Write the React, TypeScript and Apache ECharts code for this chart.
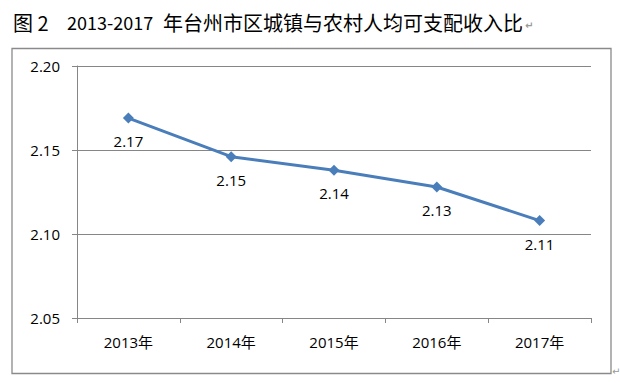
import React, { useEffect, useRef } from "react";
import * as echarts from "echarts";

const categories = ["2013年", "2014年", "2015年", "2016年", "2017年"];
const ratioValues = [2.169, 2.146, 2.138, 2.128, 2.108];
const yTicks = { min: 2.05, max: 2.2, interval: 0.05 };
const titleParts = ["图 2", "2013-2017", "年台州市区城镇与农村人均可支配收入比", "↵"];

export default function App() {
  const ref = useRef<HTMLDivElement>(null);
  useEffect(() => {
    if (!ref.current) return;
    const chart = echarts.init(ref.current, null, { renderer: "svg" });
    const labelFont = "'Open Sans', 'Noto Sans CJK SC', sans-serif";
    chart.setOption({
      animation: false,
      backgroundColor: "#ffffff",
      title: {
        left: 13,
        top: 10,
        padding: 0,
        text: `{a|${titleParts[0]}}{b|${titleParts[1]}}{c|${titleParts[2]}}{m|${titleParts[3]}}`,
        textStyle: {
          rich: {
            a: { fontFamily: "'Noto Sans CJK SC'", fontSize: 20, fontWeight: "normal", color: "#000", width: 54, lineHeight: 24 },
            b: { fontFamily: "'Noto Sans CJK SC'", fontSize: 18, fontWeight: "normal", color: "#000", width: 96, lineHeight: 24 },
            c: { fontFamily: "'Noto Sans CJK SC'", fontSize: 20, fontWeight: "normal", color: "#000", lineHeight: 24 },
            m: { fontFamily: "'DejaVu Sans'", fontSize: 10, color: "#999", lineHeight: 24, padding: [6, 0, 0, 2] },
          },
        },
      },
      graphic: [
        {
          type: "rect",
          shape: { x: 12, y: 48.5, width: 599, height: 325 },
          style: { fill: "none", stroke: "#8a8a8a", lineWidth: 1.3 },
          silent: true,
        },
        {
          type: "text",
          left: 612,
          top: 366,
          style: { text: "↵", fontSize: 10, fill: "#999", fontFamily: "'DejaVu Sans'" },
          silent: true,
        },
      ],
      grid: { left: 77, top: 66, width: 514, height: 252, containLabel: false },
      xAxis: {
        type: "category",
        data: categories,
        boundaryGap: true,
        axisLine: { show: true, lineStyle: { color: "#868686", width: 1 } },
        axisTick: { show: true, length: 5, lineStyle: { color: "#868686" } },
        axisLabel: { color: "#000", fontSize: 15, fontFamily: labelFont, margin: 16 },
        splitLine: { show: false },
      },
      yAxis: {
        type: "value",
        min: yTicks.min,
        max: yTicks.max,
        interval: yTicks.interval,
        axisLine: { show: true, lineStyle: { color: "#868686", width: 1 } },
        axisTick: { show: true, length: 5, lineStyle: { color: "#868686" } },
        axisLabel: {
          color: "#000",
          fontSize: 15,
          fontFamily: labelFont,
          margin: 17,
          formatter: (v: number) => v.toFixed(2),
        },
        splitLine: { show: true, lineStyle: { color: "#868686", width: 1 } },
      },
      series: [
        {
          type: "line",
          data: ratioValues,
          symbol: "diamond",
          symbolSize: 11,
          lineStyle: { color: "#4a7ebb", width: 3 },
          itemStyle: { color: "#4a7ebb" },
          label: {
            show: true,
            position: "bottom",
            distance: 10,
            color: "#000",
            fontSize: 15,
            fontFamily: labelFont,
            formatter: (p: any) => Number(p.value).toFixed(2),
          },
        },
      ],
    });
    return () => chart.dispose();
  }, []);
  return (
    <div
      ref={ref}
      style={{ position: "fixed", left: 0, top: 0, width: 620, height: 383, background: "#fff" }}
    />
  );
}
